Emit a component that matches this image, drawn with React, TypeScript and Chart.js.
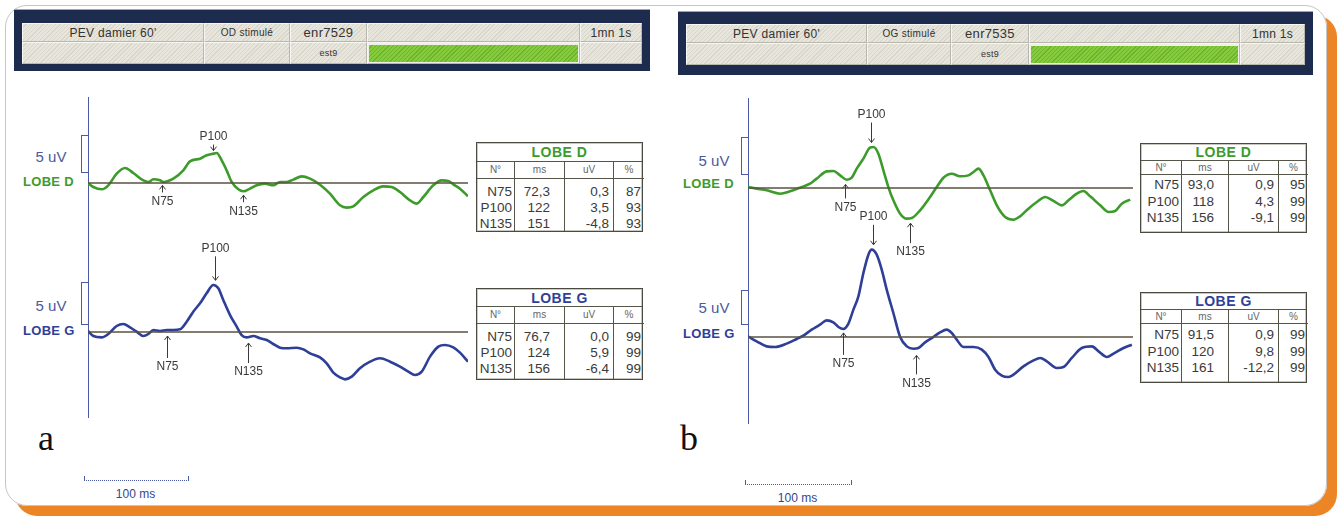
import React, { useEffect, useRef } from "react";
import { Chart, registerables } from "chart.js";
Chart.register(...registerables);

type Pt = [number, number];

const SWEEP_MS = 370;
const WAVES = ["N75", "P100", "N135"];
const TABLE_HEAD = ["N°", "ms", "uV", "%"];

// ---- Panel a : OD stimulé ----
const headerA = ["PEV damier 60'", "OD stimulé", "enr7529", "est9", "1mn 1s"];
const traceAD: Pt[] = [
  [0, 0], [5.2, -0.5], [13.3, -0.79], [19.8, -0.29], [27.9, 1.17], [36, 1.88], [44.1, 1.25], [53.9, 0.33],
  [58.8, 0.13], [63.6, 0.46], [70.1, 0.33], [73.4, 0.13], [83.1, 0.54], [92.8, 1.58], [99.3, 2.71], [109.1, 3.04],
  [115.5, 3.46], [122, 3.67], [125.3, 3.75], [130.2, 2.83], [135, 1.58], [139.9, 0.13], [146.4, -0.79], [151.2, -1.04],
  [157.7, -0.71], [164.2, -0.29], [172.3, -0.08], [180.4, -0.29], [187, 0.13], [193.5, 0.13], [199.9, 0.42], [208.1, 0.83],
  [216.2, 0.54], [225.9, -0.21], [235.6, -1.33], [245.4, -2.79], [251.9, -3.08], [258.3, -2.92], [268.1, -1.75], [277.8, -0.92],
  [287.5, -0.42], [295.7, -0.5], [303.8, -1.13], [313.5, -2.17], [320.1, -2.58], [326.5, -1.75], [336.2, -0.29], [344.4, 0.33],
  [350.8, 0.25], [355.7, -0.17], [362.2, -0.71], [370, -1.67],
];
const traceAG: Pt[] = [
  [0, 0.12], [5.2, -0.5], [13.3, -0.67], [19.8, -0.25], [27.9, 0.75], [34.4, 1.0], [40.9, 0.58], [47.4, 0.04],
  [53.9, -0.5], [58.8, -0.25], [63.6, 0.25], [70.1, 0.12], [76.6, 0.25], [83.1, 0.25], [89.6, 0.33], [96.1, 1.29],
  [102.5, 2.54], [109.1, 3.58], [115.5, 4.83], [122, 5.88], [126.9, 5.46], [131.7, 4.0], [138.3, 2.12], [144.8, 0.67],
  [149.6, -0.38], [154.5, -0.67], [161, -0.5], [167.5, -0.79], [174, -1.0], [180.4, -1.5], [187, -1.96], [193.5, -2.04],
  [203.2, -1.96], [209.7, -2.17], [216.2, -2.67], [225.9, -3.17], [232.4, -3.92], [238.9, -5.08], [245.4, -5.67], [250.2, -5.92],
  [256.8, -5.58], [264.8, -4.54], [274.6, -3.71], [284.3, -3.29], [294.1, -3.71], [303.8, -4.33], [311.9, -4.96], [318.4, -5.38],
  [324.9, -4.96], [333, -3.08], [341.1, -1.83], [347.6, -1.62], [355.7, -1.92], [362.2, -2.58], [370, -3.71],
];
const latAD = [72.3, 122, 151];
const ampAD = [0.3, 3.5, -4.8];
const pctAD = [87, 93, 93];
const latAG = [76.7, 124, 156];
const ampAG = [0.0, 5.9, -6.4];
const pctAG = [99, 99, 99];

// ---- Panel b : OG stimulé ----
const headerB = ["PEV damier 60'", "OG stimulé", "enr7535", "est9", "1mn 1s"];
const traceBD: Pt[] = [
  [0, 0.12], [8.3, -0.08], [17.9, -0.29], [30.8, -0.71], [40.4, -0.42], [50, 0.04], [59.6, 0.54], [66, 1.17],
  [75.6, 2.08], [82, 2.12], [88.5, 1.58], [94.9, 1.04], [99.7, 1.29], [104.5, 2.42], [110.9, 3.67], [117.3, 5.04],
  [120.5, 5.12], [125.3, 4.29], [130.1, 2.21], [134.9, 0.12], [139.7, -1.54], [146.2, -3.21], [152.6, -3.83], [157.4, -3.75],
  [165.4, -2.79], [175, -1.12], [181.4, 0.12], [187.8, 1.29], [195.8, 1.79], [203.8, 1.46], [211.9, 1.58], [216.7, 2.0],
  [221.5, 2.42], [226.3, 1.58], [232.7, -0.29], [239.1, -2.17], [247.1, -3.62], [255.1, -3.96], [261.5, -3.54], [269.5, -2.58],
  [277.6, -1.75], [285.6, -1.12], [293.6, -1.62], [301.6, -2.17], [308, -1.54], [316, -0.71], [322.4, -0.38], [328.8, -1.04],
  [338.5, -2.17], [346.5, -3.0], [352.9, -2.87], [359.3, -1.96], [367.3, -1.46],
];
const traceBG: Pt[] = [
  [0, 0.08], [8.3, -0.54], [17.9, -1.17], [26, -1.25], [37.2, -0.83], [46.8, -0.25], [53.2, 0.17], [61.2, 0.92],
  [69.2, 1.54], [75.6, 2.08], [82, 1.83], [86.9, 1.25], [91.7, 1.0], [96.5, 1.67], [101.3, 3.42], [106.1, 5.08],
  [110.9, 8.0], [115.7, 10.29], [118.9, 10.92], [123.7, 10.29], [128.5, 8.42], [133.3, 5.92], [139.7, 3.0], [146.2, 0],
  [152.6, -1.17], [159, -1.46], [163.8, -1.37], [170.2, -0.67], [178.2, 0], [184.6, 0.58], [191, 0.92], [195.8, 0.5],
  [200.6, -0.33], [207, -1.25], [216.7, -1.25], [224.7, -1.58], [231.1, -2.5], [237.5, -4.08], [243.9, -4.83], [250.3, -5.0],
  [255.1, -4.71], [264.7, -3.67], [274.4, -2.92], [280.8, -2.62], [287.2, -3.04], [296.8, -3.87], [303.2, -3.75], [311.2, -2.62],
  [320.8, -1.37], [330.5, -1.17], [336.9, -1.79], [344.9, -2.5], [351.3, -2.08], [360.9, -1.37], [368.9, -0.96],
];
const latBD = [93.0, 118, 156];
const ampBD = [0.9, 4.3, -9.1];
const pctBD = [95, 99, 99];
const latBG = [91.5, 120, 161];
const ampBG = [0.9, 9.8, -12.2];
const pctBG = [99, 99, 99];

// ---- styling ----
const GREEN = "#3d9b2b";
const BLUE = "#2f3f98";
const AXIS_BLUE = "#4a5aa6";
const BASE_LINE = "#58523e";
const TEXT = "#3a3a3a";
const FONT = '"Liberation Sans", Arial, "DejaVu Sans", sans-serif';
const PX_PER_UV = 8;

type ArrowStyle = { gap: number; len: number };
const arrowsAD: ArrowStyle[] = [{ gap: 4, len: 7 }, { gap: 3, len: 6 }, { gap: 4, len: 7 }];
const arrowsAG: ArrowStyle[] = [{ gap: 6, len: 22 }, { gap: 6, len: 24 }, { gap: 6, len: 20 }];
const arrowsBD: ArrowStyle[] = [{ gap: 6, len: 14 }, { gap: 5, len: 20 }, { gap: 5, len: 20 }];
const arrowsBG: ArrowStyle[] = [{ gap: 4, len: 22 }, { gap: 6, len: 20 }, { gap: 7, len: 19 }];

function valueAt(trace: Pt[], ms: number): number {
  for (let i = 0; i < trace.length - 1; i++) {
    const [x0, y0] = trace[i];
    const [x1, y1] = trace[i + 1];
    if (ms >= x0 && ms <= x1) return y0 + ((y1 - y0) * (ms - x0)) / (x1 - x0);
  }
  return trace[trace.length - 1][1];
}

function fmtMs(v: number) {
  return v < 100 ? v.toFixed(1).replace(".", ",") : String(Math.round(v));
}
function fmtUv(v: number) {
  return v.toFixed(1).replace(".", ",");
}

type TraceProps = {
  left: number; top: number; width: number; height: number; baseline: number;
  trace: Pt[]; latencies: number[]; arrows: ArrowStyle[]; color: string;
};

function Trace({ left, top, width, height, baseline, trace, latencies, arrows, color }: TraceProps) {
  const ref = useRef<HTMLCanvasElement>(null);
  useEffect(() => {
    if (!ref.current) return;
    const yMax = (baseline - top) / PX_PER_UV;
    const yMin = -(top + height - baseline) / PX_PER_UV;
    const markerPlugin = {
      id: "evokedMarkers",
      afterDatasetsDraw(chart: any) {
        const ctx = chart.ctx as CanvasRenderingContext2D;
        const xs = chart.scales.x;
        const ys = chart.scales.y;
        ctx.save();
        ctx.strokeStyle = TEXT;
        ctx.fillStyle = TEXT;
        ctx.lineWidth = 1;
        ctx.font = `12px ${FONT}`;
        ctx.textAlign = "center";
        latencies.forEach((ms, i) => {
          const down = i === 1;
          const st = arrows[i];
          const x = Math.round(xs.getPixelForValue(ms)) + 0.5;
          const yv = ys.getPixelForValue(valueAt(trace, ms));
          const tip = down ? yv - st.gap : yv + st.gap;
          const tail = down ? tip - st.len : tip + st.len;
          ctx.beginPath();
          ctx.moveTo(x, tail);
          ctx.lineTo(x, tip);
          const h = down ? -4 : 4;
          ctx.moveTo(x - 3, tip + h);
          ctx.lineTo(x, tip);
          ctx.lineTo(x + 3, tip + h);
          ctx.stroke();
          if (down) {
            ctx.textBaseline = "bottom";
            ctx.fillText(WAVES[i], x, tail - 2);
          } else {
            ctx.textBaseline = "top";
            ctx.fillText(WAVES[i], x, tail + 3);
          }
        });
        ctx.restore();
      },
    };
    const chart = new Chart(ref.current, {
      type: "line",
      data: {
        datasets: [
          {
            data: [{ x: 0, y: 0 }, { x: SWEEP_MS, y: 0 }],
            borderColor: BASE_LINE,
            borderWidth: 1.4,
            pointRadius: 0,
            tension: 0,
          },
          {
            data: trace.map(([x, y]) => ({ x, y })),
            borderColor: color,
            borderWidth: 2.6,
            pointRadius: 0,
            tension: 0.35,
            cubicInterpolationMode: "monotone",
          },
        ],
      } as any,
      options: {
        animation: false,
        responsive: false,
        maintainAspectRatio: false,
        events: [],
        layout: { padding: 0 },
        scales: {
          x: { type: "linear", min: 0, max: SWEEP_MS, display: false },
          y: { type: "linear", min: yMin, max: yMax, display: false },
        },
        plugins: { legend: { display: false }, tooltip: { enabled: false } },
      } as any,
      plugins: [markerPlugin as any],
    });
    return () => chart.destroy();
  }, []);
  return (
    <canvas
      ref={ref}
      width={width}
      height={height}
      style={{ position: "absolute", left, top, width, height }}
    />
  );
}

function Txt({ x, y, children, style }: { x: number; y: number; children: any; style?: any }) {
  return (
    <div
      style={{
        position: "absolute", left: x, top: y, transform: "translate(-50%,-50%)",
        whiteSpace: "nowrap", lineHeight: 1, ...style,
      }}
    >
      {children}
    </div>
  );
}

const hatch = "repeating-linear-gradient(135deg, #e8e6dc 0px, #e8e6dc 2px, #d9d7cc 2px, #d9d7cc 3px)";
const greenHatch = "repeating-linear-gradient(135deg, #86ca3e 0px, #86ca3e 2px, #6db42d 2px, #6db42d 3px)";

function Header({ frame, inner, split, cols, labels }: {
  frame: [number, number, number, number]; inner: [number, number, number, number];
  split: number; cols: number[]; labels: string[];
}) {
  const [fx, fy, fw, fh] = frame;
  const [ix, iy, iw, ih] = inner;
  const r1 = split - iy;
  const r2 = ih - r1;
  const cell = (c: number, row: number, content: any, green = false, fs = 12) => {
    const left = cols[c] - ix;
    const width = cols[c + 1] - cols[c];
    const top = row === 0 ? 0 : r1;
    const height = row === 0 ? r1 : r2;
    return (
      <div
        key={`${c}-${row}`}
        style={{
          position: "absolute", left, top, width, height, boxSizing: "border-box",
          border: "1px solid #b8b7ae", borderTopColor: "#f6f6f2", borderLeftColor: "#f6f6f2",
          background: green ? undefined : hatch, display: "flex", alignItems: "center",
          justifyContent: "center", fontSize: fs, color: "#333", letterSpacing: 0.3,
        }}
      >
        {green ? (
          <div style={{ position: "absolute", left: 1, right: 1, top: 2, bottom: 1, background: greenHatch }} />
        ) : (
          content
        )}
      </div>
    );
  };
  return (
    <div style={{ position: "absolute", left: fx, top: fy, width: fw, height: fh, background: "#1d2b4e", borderTop: "1px solid #9aa" , boxSizing: "border-box"}}>
      <div style={{ position: "absolute", left: ix - fx, top: iy - fy, width: iw, height: ih, background: "#efeee8" }}>
        {cell(0, 0, labels[0], false, 12)}
        {cell(1, 0, labels[1], false, 10)}
        {cell(2, 0, labels[2], false, 13)}
        {cell(3, 0, "")}
        {cell(4, 0, labels[4], false, 12)}
        {cell(0, 1, "")}
        {cell(1, 1, "")}
        {cell(2, 1, labels[3], false, 9)}
        {cell(3, 1, "", true)}
        {cell(4, 1, "")}
      </div>
    </div>
  );
}

function ResultTable({ x, y, h, cols, titleH, headH, padTop, lineH, title, color, lat, amp, pct }: {
  x: number; y: number; h: number; cols: number[]; titleH: number; headH: number; padTop: number; lineH: number;
  title: string; color: string; lat: number[]; amp: number[]; pct: number[];
}) {
  const w = cols.reduce((a, b) => a + b, 0);
  const colData = [WAVES, lat.map(fmtMs), amp.map(fmtUv), pct.map(String)];
  const padR = [2, 14, 4, 3];
  let acc = 0;
  const starts = cols.map((c) => { const s = acc; acc += c; return s; });
  return (
    <div style={{ position: "absolute", left: x, top: y, width: w, height: h, border: "1px solid #4a4a40", boxSizing: "border-box", background: "#fff", boxShadow: "inset 0 0 0 1px #c8c8c0", color: TEXT }}>
      <div style={{ position: "absolute", left: 0, top: 0, right: 0, height: titleH, borderBottom: "1px solid #55554a", display: "flex", alignItems: "center", justifyContent: "center", fontWeight: 700, fontSize: 14, color, letterSpacing: 0.5 }}>
        {title}
      </div>
      {cols.map((cw, i) => (
        <div key={i} style={{ position: "absolute", left: starts[i], top: titleH, width: cw, bottom: 0, borderLeft: i ? "1px solid #55554a" : undefined, boxSizing: "border-box" }}>
          <div style={{ height: headH, borderBottom: "1px solid #55554a", display: "flex", alignItems: "center", justifyContent: "center", fontSize: 10, color: "#666" }}>
            {TABLE_HEAD[i]}
          </div>
          <div style={{ paddingTop: padTop, paddingRight: padR[i], textAlign: "right", fontSize: 13.5 }}>
            {colData[i].map((t, k) => (
              <div key={k} style={{ height: lineH, lineHeight: `${lineH}px`, whiteSpace: "nowrap" }}>{t}</div>
            ))}
          </div>
        </div>
      ))}
    </div>
  );
}

function Bracket({ x, y0, y1 }: { x: number; y0: number; y1: number }) {
  return (
    <div style={{ position: "absolute", left: x, top: y0, width: 6, height: y1 - y0, border: `1px solid ${AXIS_BLUE}`, borderRight: "none" }} />
  );
}

function ScaleBar({ x0, x1, y }: { x0: number; x1: number; y: number }) {
  return (
    <>
      <div style={{ position: "absolute", left: x0, top: y - 4, width: x1 - x0, height: 4, borderLeft: `1px solid ${AXIS_BLUE}`, borderRight: `1px solid ${AXIS_BLUE}`, borderBottom: `1px dotted ${AXIS_BLUE}` }} />
      <Txt x={(x0 + x1) / 2} y={y + 14} style={{ fontSize: 12, color: "#34458c" }}>100 ms</Txt>
    </>
  );
}

export default function App() {
  const left5 = { fontSize: 15, color: "#4b5a9c" };
  const lobe = { fontSize: 13, fontWeight: 700, letterSpacing: 0.3 };
  return (
    <div style={{ position: "absolute", left: 0, top: 0, width: 1340, height: 518, background: "#fff", overflow: "hidden", fontFamily: FONT }}>
      <div style={{ position: "absolute", left: 5, top: 5, width: 1320, height: 499, border: "1px solid #c6c6c6", borderRadius: 22, boxShadow: "10px 10px 0 #ec8526" }} />

      <Header frame={[14, 9, 636, 62]} inner={[22, 22, 620, 41]} split={41} cols={[22, 204, 290, 367, 580, 642]} labels={headerA} />
      <Header frame={[678, 11, 635, 64]} inner={[686, 23, 619, 41]} split={42} cols={[686, 867, 951, 1029, 1240, 1305]} labels={headerB} />

      {/* axes */}
      <div style={{ position: "absolute", left: 88, top: 97, width: 1, height: 321, background: AXIS_BLUE }} />
      <div style={{ position: "absolute", left: 748, top: 98, width: 1, height: 326, background: AXIS_BLUE }} />

      {/* left labels panel a */}
      <Bracket x={81} y0={135} y1={171} />
      <Txt x={51} y={156} style={left5}>5 uV</Txt>
      <div style={{ position: "absolute", left: 23, top: 174, ...lobe, color: GREEN }}>LOBE D</div>
      <Bracket x={81} y0={282} y1={323} />
      <Txt x={51} y={305} style={left5}>5 uV</Txt>
      <div style={{ position: "absolute", left: 23, top: 323, ...lobe, color: BLUE }}>LOBE G</div>

      {/* left labels panel b */}
      <Bracket x={741} y0={137} y1={173} />
      <Txt x={714} y={160} style={left5}>5 uV</Txt>
      <div style={{ position: "absolute", left: 683, top: 176, ...lobe, color: GREEN }}>LOBE D</div>
      <Bracket x={741} y0={290} y1={323} />
      <Txt x={714} y={307} style={left5}>5 uV</Txt>
      <div style={{ position: "absolute", left: 683, top: 326, ...lobe, color: BLUE }}>LOBE G</div>

      <Trace left={88} top={100} width={380} height={140} baseline={183} trace={traceAD} latencies={latAD} arrows={arrowsAD} color={GREEN} />
      <Trace left={88} top={236} width={380} height={164} baseline={332} trace={traceAG} latencies={latAG} arrows={arrowsAG} color={BLUE} />
      <Trace left={748} top={96} width={385} height={172} baseline={188} trace={traceBD} latencies={latBD} arrows={arrowsBD} color={GREEN} />
      <Trace left={748} top={200} width={385} height={220} baseline={337} trace={traceBG} latencies={latBG} arrows={arrowsBG} color={BLUE} />

      <ResultTable x={476} y={142} h={90} cols={[37, 50, 49, 31]} titleH={18} headH={17} padTop={5} lineH={16} title="LOBE D" color={GREEN} lat={latAD} amp={ampAD} pct={pctAD} />
      <ResultTable x={476} y={288} h={92} cols={[37, 50, 49, 31]} titleH={17} headH={17} padTop={5} lineH={16} title="LOBE G" color={BLUE} lat={latAG} amp={ampAG} pct={pctAG} />
      <ResultTable x={1140} y={143} h={90} cols={[40, 47, 50, 30]} titleH={16} headH={14} padTop={2} lineH={16.5} title="LOBE D" color={GREEN} lat={latBD} amp={ampBD} pct={pctBD} />
      <ResultTable x={1140} y={292} h={91} cols={[40, 47, 50, 30]} titleH={16} headH={14} padTop={3} lineH={16.5} title="LOBE G" color={BLUE} lat={latBG} amp={ampBG} pct={pctBG} />

      <div style={{ position: "absolute", left: 38, top: 420, fontFamily: '"Liberation Serif", "Times New Roman", serif', fontSize: 36, lineHeight: 1, color: "#111" }}>a</div>
      <div style={{ position: "absolute", left: 680, top: 420, fontFamily: '"Liberation Serif", "Times New Roman", serif', fontSize: 36, lineHeight: 1, color: "#111" }}>b</div>

      <ScaleBar x0={84} x1={187} y={480} />
      <ScaleBar x0={745} x1={850} y={484} />
    </div>
  );
}
